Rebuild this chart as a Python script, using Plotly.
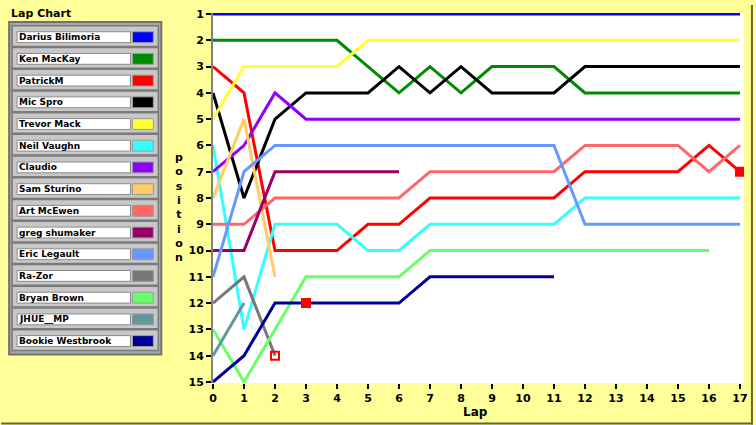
import plotly.graph_objects as go

# drivers, legend order
names = ['Darius Bilimoria', 'Ken MacKay', 'PatrickM', 'Mic Spro', 'Trevor Mack',
         'Neil Vaughn', 'Claudio', 'Sam Sturino', 'Art McEwen', 'greg shumaker',
         'Eric Legault', 'Ra-Zor', 'Bryan Brown', 'JHUE__MP', 'Bookie Westbrook']

colors = ['#0000FF', '#008C00', '#FF0000', '#000000', '#FFFF33',
          '#33FFFF', '#9000FF', '#FFCC66', '#FF6666', '#990066',
          '#6699FF', '#777777', '#66FF66', '#5F9999', '#000099']

# position at lap 0, 1, 2, ...
darius = [1, 1, 1, 1, 1, 1, 1, 1, 1, 1, 1, 1, 1, 1, 1, 1, 1, 1]
ken = [2, 2, 2, 2, 2, 3, 4, 3, 4, 3, 3, 3, 4, 4, 4, 4, 4, 4]
patrick = [3, 4, 10, 10, 10, 9, 9, 8, 8, 8, 8, 8, 7, 7, 7, 7, 6, 7]
mic = [4, 8, 5, 4, 4, 4, 3, 4, 3, 4, 4, 4, 3, 3, 3, 3, 3, 3]
trevor = [5, 3, 3, 3, 3, 2, 2, 2, 2, 2, 2, 2, 2, 2, 2, 2, 2, 2]
neil = [6, 13, 9, 9, 9, 10, 10, 9, 9, 9, 9, 9, 8, 8, 8, 8, 8, 8]
claudio = [7, 6, 4, 5, 5, 5, 5, 5, 5, 5, 5, 5, 5, 5, 5, 5, 5, 5]
sam = [8, 5, 11]
art = [9, 9, 8, 8, 8, 8, 8, 7, 7, 7, 7, 7, 6, 6, 6, 6, 7, 6]
greg = [10, 10, 7, 7, 7, 7, 7]
eric = [11, 7, 6, 6, 6, 6, 6, 6, 6, 6, 6, 6, 9, 9, 9, 9, 9, 9]
razor = [12, 11, 14]
bryan = [13, 15, 13, 11, 11, 11, 11, 10, 10, 10, 10, 10, 10, 10, 10, 10, 10]
jhue = [14, 12]
bookie = [15, 14, 12, 12, 12, 12, 12, 11, 11, 11, 11, 11]

positions = [darius, ken, patrick, mic, trevor, neil, claudio, sam, art, greg,
             eric, razor, bryan, jhue, bookie]

# red flags
flag_laps = [2, 3, 17]
flag_pos = [14, 12, 7]
flag_symbols = ['square-open', 'square', 'square']

lap_ticks = list(range(0, 18))
pos_ticks = list(range(1, 16))

# plot area in pixels (756x425 page)
L, R, T, B = 213, 747, 8, 383


def px(x):
    return (x - L) / (R - L)


def py(y):
    return (B - y) / (B - T)


fig = go.Figure()

for name, color, pos in zip(names, colors, positions):
    fig.add_trace(go.Scatter(
        x=list(range(len(pos))),
        y=pos,
        name=name,
        mode='lines',
        line=dict(color=color, width=3),
    ))

fig.add_trace(go.Scatter(
    x=flag_laps,
    y=flag_pos,
    mode='markers',
    marker=dict(symbol=flag_symbols, size=8, color='#FF0000',
                line=dict(color='#FF0000', width=2)),
    name='flags',
))

shapes = []
annotations = []

# legend panel
shapes.append(dict(type='rect', xref='paper', yref='paper',
                   x0=px(8), x1=px(161), y0=py(17), y1=py(354),
                   fillcolor='#A8A8A8', line=dict(color='#707070', width=2),
                   layer='below'))
for i, (name, color) in enumerate(zip(names, colors)):
    top = 21 + 22 * i
    shapes.append(dict(type='rect', xref='paper', yref='paper',
                       x0=px(11), x1=px(158), y0=py(top), y1=py(top + 21),
                       fillcolor='#C8C8C8', line=dict(color='#7A7A7A', width=1.5)))
    shapes.append(dict(type='rect', xref='paper', yref='paper',
                       x0=px(16), x1=px(130), y0=py(top + 6), y1=py(top + 17),
                       fillcolor='white', line=dict(color='#8A8A8A', width=1)))
    shapes.append(dict(type='rect', xref='paper', yref='paper',
                       x0=px(132), x1=px(153), y0=py(top + 6), y1=py(top + 17),
                       fillcolor=color, line=dict(color='#9A9A9A', width=1)))
    annotations.append(dict(xref='paper', yref='paper', x=px(16), y=py(top + 11.5),
                            text='<b>' + name + '</b>', showarrow=False,
                            xanchor='left', yanchor='middle',
                            font=dict(family='DejaVu Sans', size=9, color='black')))

# page frame
shapes.append(dict(type='line', xref='paper', yref='paper',
                   x0=px(0), x1=px(756), y0=py(424), y1=py(424),
                   line=dict(color='#666633', width=2)))
shapes.append(dict(type='line', xref='paper', yref='paper',
                   x0=px(755), x1=px(755), y0=py(0), y1=py(425),
                   line=dict(color='#666633', width=2)))

annotations.append(dict(xref='paper', yref='paper', x=px(8), y=py(9),
                        text='<b>Lap Chart</b>', showarrow=False,
                        xanchor='left', yanchor='middle',
                        font=dict(family='DejaVu Sans', size=11, color='black')))
annotations.append(dict(xref='paper', yref='paper', x=px(477), y=py(412),
                        text='<b>Lap</b>', showarrow=False,
                        xanchor='center', yanchor='middle',
                        font=dict(family='DejaVu Sans', size=12, color='black')))
annotations.append(dict(xref='paper', yref='paper', x=px(179), y=py(205),
                        text='<b>' + '<br>'.join('position') + '</b>', showarrow=False,
                        xanchor='center', yanchor='middle',
                        font=dict(family='DejaVu Sans', size=11, color='black')))

fig.update_layout(
    width=756, height=425,
    margin=dict(l=L, r=756 - R, t=T, b=425 - B, pad=0),
    paper_bgcolor='#FFFF99',
    plot_bgcolor='white',
    showlegend=False,
    shapes=shapes,
    annotations=annotations,
    font=dict(family='DejaVu Sans', size=11, color='black'),
)

fig.update_xaxes(
    range=[0, 17.13], tickvals=lap_ticks, ticktext=['<b>%d</b>' % v for v in lap_ticks],
    showgrid=False, zeroline=False, showline=False,
    ticks='outside', ticklen=5, tickcolor='black', tickwidth=1.5,
)
fig.update_yaxes(
    range=[15.04, 0.96], tickvals=pos_ticks, ticktext=['<b>%d</b>' % v for v in pos_ticks],
    showgrid=False, zeroline=False, showline=True, linecolor='#808080', linewidth=2,
    ticks='outside', ticklen=5, tickcolor='black', tickwidth=1.5,
)

fig.write_html('out.html', config=dict(displayModeBar=False),
               post_script="document.body.style.margin='0';")
